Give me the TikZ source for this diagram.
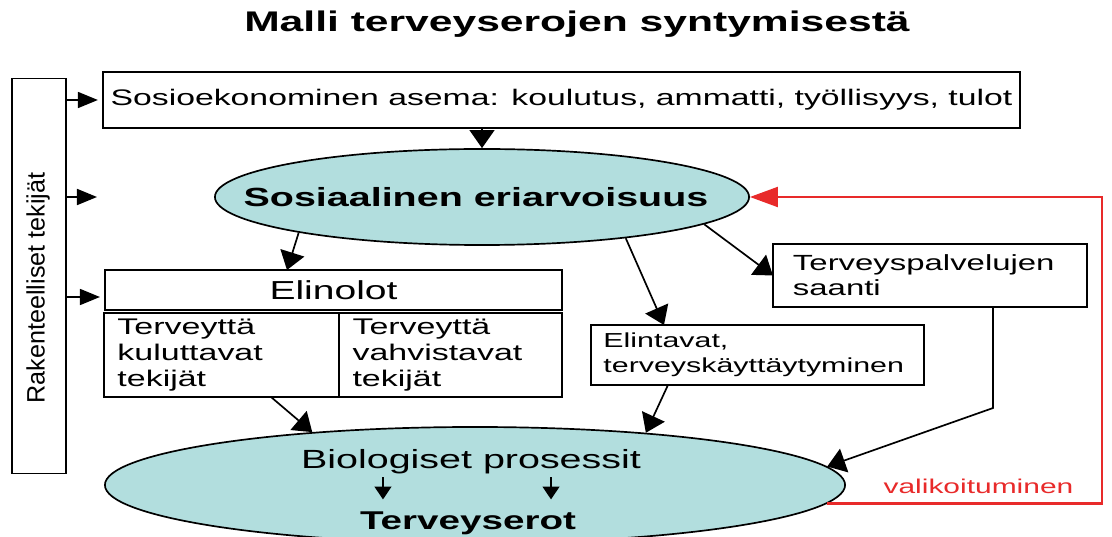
\documentclass[tikz,border=0pt]{standalone}
\usepackage{fontspec}
\setmainfont{Liberation Sans}[FakeStretch=1.5]
\newfontfamily\uprightfont{Liberation Sans}
\usetikzlibrary{arrows.meta, positioning, shapes.geometric}
\definecolor{ovalfill}{RGB}{178,222,222}
\definecolor{selred}{RGB}{232,42,42}

\begin{document}
\begin{tikzpicture}[
    x=0.025cm, y=-0.025cm,
    box/.style={draw, line width=1.2pt, fill=white, inner sep=0pt, outer sep=0pt, align=left},
    oval/.style={ellipse, draw, line width=1.2pt, fill=ovalfill, inner sep=0pt},
    arr/.style={-{Triangle[length=0.45cm, width=0.62cm]}, line width=1.2pt},
    harr/.style={-{Triangle[length=0.5cm, width=0.4cm]}, line width=1.2pt, shorten >=0.125cm},
    sarr/.style={-{Triangle[length=0.32cm, width=0.42cm]}, line width=1.2pt},
    redarr/.style={-{Triangle[length=0.7cm, width=0.5cm]}, line width=1.5pt, selred},
  ]
  \useasboundingbox (0,0) rectangle (1112,537);

  \node[font=\bfseries\fontsize{20.2pt}{24pt}\selectfont, anchor=base] (title) at (577,32) {Malli terveyserojen syntymisestä};

  % vasen palkki
  \node[box, minimum width=1.35cm, minimum height=9.875cm] (rak) at (39,276) {};
  \node[rotate=90, font=\uprightfont\fontsize{17.9pt}{21pt}\selectfont] (raktxt) at (38,288) {Rakenteelliset tekijät};

  \node[box, minimum width=22.925cm, minimum height=1.4cm, font=\fontsize{16pt}{19pt}\selectfont] (sea) at (561.5,100) {Sosioekonominen asema: koulutus, ammatti, työllisyys, tulot};

  \node[oval, minimum width=13.35cm, minimum height=2.4cm] (sos) at (482,197) {};
  \node[font=\bfseries\fontsize{18.7pt}{22pt}\selectfont] (sostxt) at (476,197) {Sosiaalinen eriarvoisuus};

  \node[box, minimum width=11.425cm, minimum height=1cm, font=\fontsize{18.5pt}{22pt}\selectfont] (elin) at (333.5,290) {Elinolot};
  \node[box, minimum width=5.875cm, minimum height=2.1cm, text width=5.2cm, font=\fontsize{16.1pt}{18.5pt}\selectfont] (kul) at (221.5,355) {Terveyttä\\kuluttavat\\tekijät};
  \node[box, right=0pt of kul, minimum width=5.575cm, minimum height=2.1cm, text width=4.9cm, font=\fontsize{16.1pt}{18.5pt}\selectfont] (vah) {Terveyttä\\vahvistavat\\tekijät};

  \node[box, minimum width=8.325cm, minimum height=1.5cm, text width=7.7cm, font=\fontsize{14.4pt}{17.8pt}\selectfont] (elint) at (757.5,355) {Elintavat,\\terveyskäyttäytyminen};
  \node[box, minimum width=7.85cm, minimum height=1.575cm, text width=6.85cm, font=\fontsize{15.6pt}{17.8pt}\selectfont] (terv) at (930,275.5) {Terveyspalvelujen\\saanti};

  \node[oval, minimum width=18.5cm, minimum height=2.9cm] (bio) at (475,485) {};
  \node[font=\fontsize{18.7pt}{22pt}\selectfont, anchor=base, inner sep=0pt] (biop) at (471,468) {Biologiset prosessit};
  \node[font=\bfseries\fontsize{18.3pt}{22pt}\selectfont, anchor=base, inner sep=0pt] (tero) at (468,529) {Terveyserot};

  % nuolet vasemmalta
  \coordinate (gap) at (102,197);
  \coordinate (elinin) at ([yshift=-0.175cm]elin.west);
  \draw[harr] (rak.east |- sea.west) -- (sea.west);
  \draw[harr] (rak.east |- gap) -- (gap);
  \draw[harr] (rak.east |- elinin) -- (elinin);

  \draw[arr] (sea.south -| sos.north) -- (sos.north);
  \draw[arr] (sos.191) -- ([xshift=-1.1625cm]elin.north);
  \draw[arr] (sos.344.5) -- ([xshift=-2.3375cm]elint.north);
  \draw[arr] (sos.353.7) -- (terv.west);

  \draw[arr] ([xshift=1.2375cm]kul.south) -- (bio.162.4);
  \draw[arr] ([xshift=-2.2375cm]elint.south) -- (bio.17.6);
  \draw[arr] ([xshift=1.575cm]terv.south) -- ++(0,101) -- (bio.3);

  \draw[sarr, shorten <=0.09cm, shorten >=0.29cm] ([xshift=-2.2cm]biop.south) -- ([xshift=-2.2cm]biop.south |- tero.north);
  \draw[sarr, shorten <=0.09cm, shorten >=0.29cm] ([xshift=2cm]biop.south) -- ([xshift=2cm]biop.south |- tero.north);

  % valikoituminen
  \draw[redarr] (bio.357.8) -- ++(275,0) node[pos=0.55, above=3pt, font=\fontsize{14.2pt}{17pt}\selectfont] {valikoituminen} |- (sos.east);
\end{tikzpicture}
\end{document}
